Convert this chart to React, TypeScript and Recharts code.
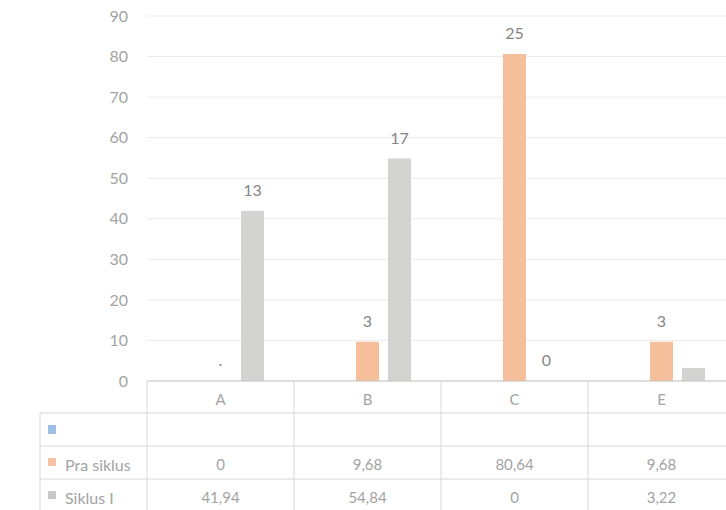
import { BarChart, Bar, XAxis, YAxis, CartesianGrid, LabelList } from 'recharts';

// kategori nilai dan persentase tiap siklus
const categories = ['A', 'B', 'C', 'E'];
const blankValues: (number | null)[] = [null, null, null, null];
const praSiklus = [0, 9.68, 80.64, 9.68];
const siklusI = [41.94, 54.84, 0, 3.22];
// label jumlah siswa yang tampil di atas batang
const praLabels = ['.', '3', '25', '3'];
const siklusLabels = ['13', '17', '0', null];
const yTicks = [0, 10, 20, 30, 40, 50, 60, 70, 80, 90];

const fmt = (v: number) => String(v).replace('.', ',');

const data = categories.map((name, i) => ({
  name,
  blank: blankValues[i],
  pra: praSiklus[i],
  siklus: siklusI[i],
  praLabel: praLabels[i],
  siklusLabel: siklusLabels[i],
}));

const CHART_W = 735;
const CHART_H = 510;
const AXIS_W = 147;
const BAND = (CHART_W - AXIS_W) / categories.length;
const ROW_H = 33;
const FONT = 'Lato, "Open Sans", sans-serif';
const TEXT = '#a3a3a3';
const LINE = '#d6d6d6';

const BarLabel = (props: any) => {
  const { x, y, width, value } = props;
  if (value === null || value === undefined) return null;
  return (
    <text
      x={x + width / 2}
      y={y - 21}
      textAnchor="middle"
      dominantBaseline="central"
      fontFamily={FONT}
      fontSize={16}
      fill="#858585"
    >
      {value}
    </text>
  );
};

// tick sumbu X yang sekaligus menggambar tabel data di bawah grafik
const TableTick = (props: any) => {
  const { x, y, payload, index } = props;
  const left = x - BAND / 2;
  const right = x + BAND / 2;
  const rows = [null, praSiklus[index], siklusI[index]];
  return (
    <g fontFamily={FONT} fontSize={15} fill={TEXT}>
      <line x1={left} x2={left} y1={y} y2={y + 4 * ROW_H} stroke={LINE} />
      {[1, 2, 3].map((r) => (
        <line key={r} x1={left} x2={right} y1={y + r * ROW_H - 1} y2={y + r * ROW_H - 1} stroke={LINE} />
      ))}
      <text x={x} y={y + 18} textAnchor="middle" dominantBaseline="central">
        {payload.value}
      </text>
      {rows.map((v, r) =>
        v === null ? null : (
          <text key={r} x={x} y={y + 18 + (r + 1) * ROW_H - 1} textAnchor="middle" dominantBaseline="central">
            {fmt(v)}
          </text>
        )
      )}
      {index === 0 && (
        <g>
          <line x1={40} x2={40} y1={y + ROW_H - 1} y2={y + 4 * ROW_H} stroke={LINE} />
          {[1, 2, 3].map((r) => (
            <line key={r} x1={40} x2={left} y1={y + r * ROW_H - 1} y2={y + r * ROW_H - 1} stroke={LINE} />
          ))}
          <rect x={48} y={y + ROW_H + 11} width={8} height={9} fill="#9dbfe3" />
          <rect x={48} y={y + 2 * ROW_H + 11} width={8} height={8} fill="#f6c4a2" />
          <text x={65} y={y + 2 * ROW_H + 17} dominantBaseline="central" fontSize={16}>Pra siklus</text>
          <rect x={48} y={y + 3 * ROW_H + 11} width={8} height={8} fill="#c8c8c8" />
          <text x={65} y={y + 3 * ROW_H + 17} dominantBaseline="central" fontSize={16}>Siklus I</text>
        </g>
      )}
    </g>
  );
};

export default function App() {
  return (
    <div style={{ position: 'fixed', left: 0, top: 0, width: 726, height: 510, overflow: 'hidden', background: '#fff' }}>
      <BarChart
        width={CHART_W}
        height={CHART_H}
        data={data}
        margin={{ top: 16, right: 0, left: 0, bottom: 0 }}
        barSize={23}
        barGap={9}
      >
        <CartesianGrid vertical={false} stroke="#ebebeb" />
        <XAxis
          dataKey="name"
          height={CHART_H - 16 - 365}
          axisLine={{ stroke: '#c6c6c6' }}
          tickLine={false}
          tickSize={0}
          tickMargin={0}
          interval={0}
          tick={<TableTick />}
        />
        <YAxis
          width={AXIS_W}
          domain={[0, 90]}
          ticks={yTicks}
          axisLine={false}
          tickLine={false}
          tickSize={6}
          tickMargin={13}
          tick={{ fontFamily: FONT, fontSize: 16, fill: TEXT }}
        />
        <Bar dataKey="blank" fill="#9dbfe3" isAnimationActive={false} />
        <Bar dataKey="pra" fill="#f6bf9b" minPointSize={0.01} isAnimationActive={false}>
          <LabelList dataKey="praLabel" content={<BarLabel />} />
        </Bar>
        <Bar dataKey="siklus" fill="#d3d3d1" minPointSize={0.01} isAnimationActive={false}>
          <LabelList dataKey="siklusLabel" content={<BarLabel />} />
        </Bar>
      </BarChart>
    </div>
  );
}
